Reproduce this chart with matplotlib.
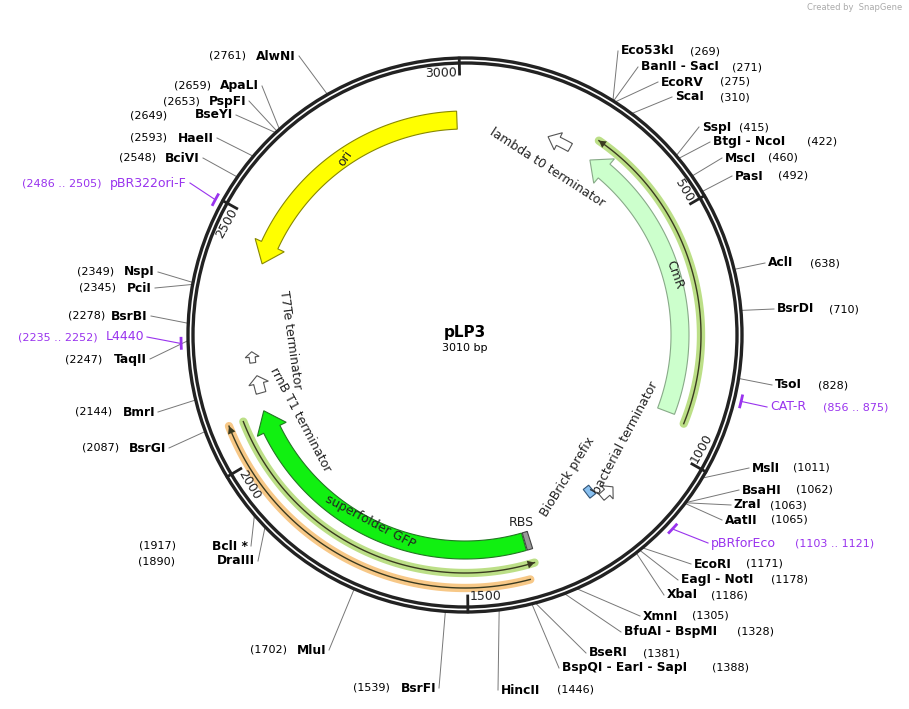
import numpy as np
import matplotlib
matplotlib.use("Agg")
import matplotlib.pyplot as plt
from matplotlib.patches import Polygon, Circle

TOTAL = 3010
PLASMID = "pLP3"

# enzyme sites: name, position
enz_right = [("Eco53kI", "269"), ("BanII - SacI", "271"), ("EcoRV", "275"), ("ScaI", "310"),
             ("SspI", "415"), ("BtgI - NcoI", "422"), ("MscI", "460"), ("PasI", "492"),
             ("AclI", "638"), ("BsrDI", "710"), ("TsoI", "828"), ("MslI", "1011"),
             ("BsaHI", "1062"), ("ZraI", "1063"), ("AatII", "1065"), ("EcoRI", "1171"),
             ("EagI - NotI", "1178"), ("XbaI", "1186"), ("XmnI", "1305"),
             ("BfuAI - BspMI", "1328"), ("BseRI", "1381"), ("BspQI - EarI - SapI", "1388"),
             ("HincII", "1446")]
enz_left = [("BsrFI", "1539"), ("MluI", "1702"), ("DraIII", "1890"), ("BclI *", "1917"),
            ("BsrGI", "2087"), ("BmrI", "2144"), ("TaqII", "2247"), ("BsrBI", "2278"),
            ("PciI", "2345"), ("NspI", "2349"), ("BciVI", "2548"), ("HaeII", "2593"),
            ("BseYI", "2649"), ("PspFI", "2653"), ("ApaLI", "2659"), ("AlwNI", "2761")]
primers = [("CAT-R", 856, 875, "R"), ("pBRforEco", 1103, 1121, "R"),
           ("L4440", 2235, 2252, "L"), ("pBR322ori-F", 2486, 2505, "L")]

# features: name, start, end, direction
feat_names = ["ori", "CmR", "lambda t0 terminator", "superfolder GFP", "RBS",
              "rrnB T1 terminator", "T7Te terminator", "BioBrick prefix", "bacterial terminator"]
feat_start = [2419, 297, 190, 1372, 1358, 2125, 2195, 1175, 1135]
feat_end = [2992, 926, 245, 2085, 1370, 2165, 2220, 1192, 1170]
feat_dir = [-1, -1, -1, 1, 0, 1, 1, 0, -1]
line_feats = [(289, 937, -1, "#b5dc7a"), (1363, 2079, -1, "#b5dc7a"), (1380, 2081, 1, "#f7c27a")]
major_ticks = [500, 1000, 1500, 2000, 2500, 3000]

# ---- layout ----
cx, cy, R = 465, 335, 277
right_xy = [(621, 51, 690), (641, 67, 732), (661, 82, 720), (675, 97, 720), (702, 127, 739),
            (713, 142, 807), (725, 158, 768), (735, 176, 778), (768, 263, 810), (777, 309, 829),
            (775, 385, 818), (752, 468, 793), (742, 490, 796), (734, 505, 770), (725, 520, 771),
            (694, 564, 746), (681, 580, 771), (667, 595, 711), (643, 616, 692), (624, 632, 737),
            (589, 653, 643), (562, 668, 712), (501, 690, 557)]
left_xy = [(436, 688, 353), (326, 650, 250), (255, 561, 138), (248, 546, 139), (166, 448, 82),
           (155, 412, 75), (147, 359, 65), (148, 316, 68), (152, 288, 79), (155, 272, 77),
           (200, 158, 119), (214, 138, 130), (233, 115, 130), (246, 101, 163), (259, 86, 174),
           (296, 56, 209)]
primer_xy = [(770, 407, 823), (711, 543, 795), (144, 337, 18), (187, 183, 22)]

fig = plt.figure(figsize=(9.09, 7.09), dpi=100)
ax = fig.add_axes([0, 0, 1, 1])
ax.set_xlim(0, 909); ax.set_ylim(709, 0); ax.axis("off")


def pt(p, r):
    t = 2 * np.pi * p / TOTAL
    return cx + r * np.sin(t), cy - r * np.cos(t)


def arc(p0, p1, r, n=80):
    ps = np.linspace(p0, p1, n)
    return [pt(p, r) for p in ps]


def arrow(s, e, d, r, w, fc, ec, head=25, hw=6):
    if d == 0:
        pts = arc(s, e, r + w / 2) + arc(e, s, r - w / 2)
    elif d == 1:
        hb = e - head
        pts = arc(s, hb, r + w / 2) + [pt(hb, r + w / 2 + hw), pt(e, r), pt(hb, r - w / 2 - hw)] + arc(hb, s, r - w / 2)
    else:
        hb = s + head
        pts = arc(e, hb, r + w / 2) + [pt(hb, r + w / 2 + hw), pt(s, r), pt(hb, r - w / 2 - hw)] + arc(hb, e, r - w / 2)
    ax.add_patch(Polygon(pts, closed=True, fc=fc, ec=ec, lw=0.8, zorder=3))


# backbone
for r in (R, R - 5):
    ax.add_patch(Circle((cx, cy), r, fill=False, ec="#222222", lw=2.4, zorder=2))

# ticks
for t in major_ticks:
    x0, y0 = pt(t, R - 16); x1, y1 = pt(t, R)
    ax.plot([x0, x1], [y0, y1], color="#222222", lw=2, zorder=2)
    ang = 360 * t / TOTAL
    top = (ang < 90 or ang > 270)
    rot = -ang if top else 180 - ang
    tx, ty = pt(t - 4, R - 15)
    ax.text(tx, ty, str(t), rotation=rot, rotation_mode="anchor", ha="right" if top else "left",
            va="center", fontsize=9, zorder=4, color="#222222")

# features
styles = {
    "ori": (215, 18, "#ffff00", "#888800", 45, 7),
    "CmR": (215, 18, "#ccffcc", "#88aa88", 40, 7),
    "lambda t0 terminator": (215, 9, "white", "#555555", 25, 5),
    "superfolder GFP": (215, 18, "#11f011", "#227722", 45, 7),
    "RBS": (215, 18, "#999999", "#444444", 1, 0),
    "rrnB T1 terminator": (212, 10, "white", "#555555", 18, 5),
    "T7Te terminator": (214, 6, "white", "#555555", 12, 4),
    "BioBrick prefix": (200, 11, "#88c0f0", "#335577", 1, 0),
    "bacterial terminator": (212, 8, "white", "#555555", 18, 5),
}
for n, s, e, d in zip(feat_names, feat_start, feat_end, feat_dir):
    r, w, fc, ec, hd, hw = styles[n]
    arrow(s, e, d, r, w, fc, ec, head=hd, hw=hw)

rl = [236, 238, 253]
for (s, e, d, c), r in zip(line_feats, rl):
    xy = np.array(arc(s, e, r))
    ax.plot(xy[:, 0], xy[:, 1], color=c, lw=6, alpha=0.9, solid_capstyle="round", zorder=3)
    ax.plot(xy[:, 0], xy[:, 1], color="#3a3a20", lw=1, zorder=3)
    tip = s if d == -1 else e
    base = tip + 14 * (1 if d == -1 else -1)
    ax.add_patch(Polygon([pt(base, r + 4), pt(tip, r), pt(base, r - 4)], fc="#3a3a20", ec="none", zorder=3))

# feature labels
fl = [("ori", 345, 158, 55), ("CmR", 675, 275, -70), ("lambda t0 terminator", 547, 168, -33),
      ("superfolder GFP", 370, 522, -28), ("RBS", 521, 523, 0), ("rrnB T1 terminator", 300, 420, -62),
      ("T7Te terminator", 290, 340, -82), ("BioBrick prefix", 568, 477, 58),
      ("bacterial terminator", 625, 438, 62)]
for n, x, y, rot in fl:
    ax.text(x, y, n, rotation=rot, ha="center", va="center", fontsize=9, color="#222222", zorder=5)

ax.text(cx, 332, PLASMID, ha="center", va="center", fontsize=11, fontweight="bold")
ax.text(cx, 348, "3010 bp", ha="center", va="center", fontsize=8)


def leader(p, x, y):
    x0, y0 = pt(p, R + 1)
    ax.plot([x0, x], [y0, y], color="#777777", lw=0.7, zorder=1)


for (n, p), (x, y, nx) in zip(enz_right, right_xy):
    leader(float(p), x - 3, y)
    ax.text(x, y, n, fontsize=8.8, fontweight="bold", va="center", ha="left")
    ax.text(nx, y, "(" + p + ")", fontsize=8, va="center", ha="left")
for (n, p), (x, y, nx) in zip(enz_left, left_xy):
    leader(float(p), x + 3, y)
    ax.text(x, y, n, fontsize=8.8, fontweight="bold", va="center", ha="right")
    ax.text(nx, y, "(" + p + ")", fontsize=8, va="center", ha="left")

purple = "#9933ee"
for (n, s, e, side), (x, y, nx) in zip(primers, primer_xy):
    m = (s + e) / 2
    xy = np.array(arc(s, e, R + 7, 10))
    ax.plot(xy[:, 0], xy[:, 1], color=purple, lw=2, zorder=3)
    x0, y0 = pt(m, R + 8)
    if side == "R":
        ax.plot([x0, x - 3], [y0, y], color=purple, lw=0.8)
        ax.text(x, y, n, fontsize=9, color=purple, va="center")
        ax.text(nx, y, f"({s} .. {e})", fontsize=8, color=purple, va="center")
    else:
        ax.plot([x0, x + 3], [y0, y], color=purple, lw=0.8)
        ax.text(x, y, n, fontsize=9, color=purple, va="center", ha="right")
        ax.text(nx, y, f"({s} .. {e})", fontsize=8, color=purple, va="center")

ax.text(902, 8, "Created by  SnapGene", fontsize=6, color="#aaaaaa", ha="right", va="center")
fig.savefig("out.png", dpi=100)
